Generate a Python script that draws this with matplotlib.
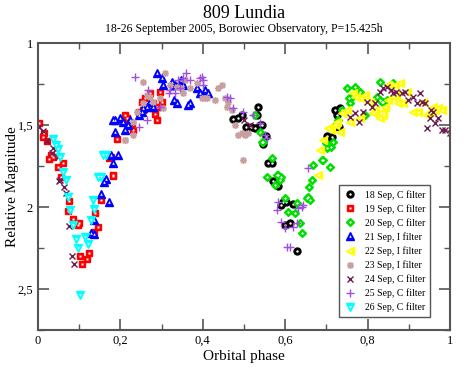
import matplotlib
matplotlib.use("Agg")
import matplotlib.pyplot as plt
from matplotlib.legend_handler import HandlerTuple
from matplotlib.ticker import FuncFormatter, MultipleLocator

plt.rcParams["font.family"] = ["Liberation Serif", "DejaVu Serif"]

# phase / relative magnitude
sep18_ph = [0.474, 0.485, 0.494, 0.506, 0.518, 0.527, 0.531, 0.535, 0.539, 0.544,
            0.547, 0.553, 0.559, 0.567, 0.571, 0.583, 0.591, 0.595, 0.603, 0.619,
            0.599, 0.612, 0.628, 0.702, 0.709, 0.713, 0.718, 0.722, 0.725, 0.731, 0.733]
sep18_mag = [1.466, 1.46, 1.439, 1.51, 1.51, 1.52, 1.439, 1.392, 1.50, 1.50,
             1.614, 1.567, 1.73, 1.73, 1.84, 1.87, 1.99, 1.97, 1.97, 1.98,
             2.11, 2.10, 2.27, 1.57, 1.612, 1.571, 1.51, 1.409, 1.439, 1.51, 1.398]

sep19_ph = [0.003, 0.014, 0.011, 0.022, 0.031, 0.027, 0.036, 0.048, 0.060, 0.056,
            0.076, 0.072, 0.084, 0.096, 0.099, 0.103, 0.108, 0.120, 0.124, 0.135,
            0.139, 0.145, 0.153, 0.173, 0.176, 0.181, 0.182, 0.191, 0.211, 0.215,
            0.219, 0.227, 0.231, 0.244, 0.256, 0.252, 0.260, 0.272, 0.280, 0.285,
            0.288, 0.288, 0.296, 0.300]
sep19_mag = [1.486, 1.547, 1.571, 1.60, 1.683, 1.709, 1.693, 1.754, 1.73, 1.815,
             1.961, 2.022, 2.075, 2.110, 2.096, 2.30, 2.35, 2.32, 2.282, 2.15,
             2.035, 2.124, 1.957, 1.703, 1.693, 1.805, 1.809, 1.583, 1.439, 1.459,
             1.480, 1.49, 1.53, 1.419, 1.409, 1.358, 1.337, 1.307, 1.368, 1.43,
             1.388, 1.469, 1.297, 1.358]

sep20_ph = [0.527, 0.539, 0.543, 0.547, 0.555, 0.567, 0.575, 0.579, 0.583, 0.587,
            0.591, 0.599, 0.608, 0.624, 0.628, 0.636, 0.640, 0.652, 0.656, 0.658,
            0.660, 0.664, 0.668, 0.689, 0.692, 0.700, 0.702, 0.709, 0.710, 0.717,
            0.726, 0.729, 0.737, 0.749, 0.754, 0.757, 0.761, 0.769, 0.781, 0.794,
            0.822, 0.830, 0.834, 0.838, 0.846, 0.830, 0.862]
sep20_mag = [1.439, 1.541, 1.602, 1.601, 1.815, 1.703, 1.866, 1.805, 1.805, 1.835,
             1.815, 1.947, 2.028, 2.039, 1.978, 2.100, 2.161, 1.947, 1.937, 1.876,
             1.957, 1.835, 1.744, 1.713, 1.714, 1.612, 1.642, 1.754, 1.632, 1.602,
             1.49, 1.469, 1.409, 1.276, 1.337, 1.368, 1.327, 1.266, 1.297, 1.439,
             1.327, 1.348, 1.358, 1.358, 1.348, 1.236, 1.246]

sep21_ph = [0.129, 0.135, 0.137, 0.153, 0.159, 0.165, 0.172, 0.178, 0.183, 0.181,
            0.187, 0.187, 0.199, 0.207, 0.211, 0.219, 0.223, 0.244, 0.252, 0.256,
            0.264, 0.272, 0.280, 0.288, 0.300, 0.304, 0.325, 0.329, 0.332, 0.337,
            0.348, 0.353, 0.365, 0.369, 0.385, 0.393, 0.405, 0.413, 0.195]
sep21_mag = [2.161, 2.165, 2.08, 1.92, 1.845, 1.83, 1.967, 1.683, 1.734, 1.47,
             1.469, 1.541, 1.459, 1.480, 1.53, 1.50, 1.469, 1.439, 1.419, 1.398,
             1.388, 1.358, 1.388, 1.185, 1.215, 1.256, 1.236, 1.347, 1.256, 1.368,
             1.225, 1.256, 1.378, 1.368, 1.276, 1.307, 1.286, 1.307, 1.683]

sep22_ph = [0.680, 0.684, 0.692, 0.704, 0.712, 0.721, 0.725, 0.733, 0.737, 0.749,
            0.757, 0.765, 0.773, 0.781, 0.785, 0.794, 0.806, 0.814, 0.818, 0.830,
            0.838, 0.842, 0.850, 0.850, 0.866, 0.879, 0.870, 0.895, 0.887, 0.874,
            0.862, 0.911, 0.923, 0.935, 0.943, 0.951, 0.959, 0.972, 0.980, 0.964,
            0.838, 0.830]
sep22_mag = [1.805, 1.652, 1.591, 1.52, 1.53, 1.50, 1.48, 1.54, 1.429, 1.409,
             1.48, 1.307, 1.327, 1.459, 1.337, 1.317, 1.358, 1.429, 1.409, 1.429,
             1.439, 1.388, 1.348, 1.256, 1.256, 1.246, 1.317, 1.297, 1.368, 1.368,
             1.327, 1.419, 1.419, 1.358, 1.439, 1.419, 1.388, 1.398, 1.409, 1.409,
             1.429, 1.459]

sep23_ph = [0.211, 0.212, 0.231, 0.231, 0.240, 0.256, 0.256, 0.264, 0.272, 0.280,
            0.296, 0.304, 0.308, 0.321, 0.337, 0.348, 0.352, 0.356, 0.369, 0.385,
            0.397, 0.405, 0.409, 0.430, 0.438, 0.446, 0.454, 0.458, 0.462, 0.470,
            0.478, 0.486, 0.494, 0.502, 0.510, 0.498]
sep23_mag = [1.591, 1.59, 1.561, 1.480, 1.419, 1.236, 1.368, 1.317, 1.327, 1.358,
             1.337, 1.398, 1.185, 1.256, 1.266, 1.276, 1.307, 1.225, 1.276, 1.246,
             1.337, 1.337, 1.337, 1.347, 1.276, 1.256, 1.337, 1.388, 1.358, 1.408,
             1.5, 1.561, 1.551, 1.561, 1.551, 1.713]

sep24_ph = [0.003, 0.011, 0.023, 0.034, 0.036, 0.048, 0.052, 0.054, 0.064, 0.069,
            0.076, 0.082, 0.088, 0.500, 0.515, 0.757, 0.769, 0.778, 0.790, 0.798,
            0.810, 0.818, 0.830, 0.838, 0.846, 0.858, 0.862, 0.870, 0.883, 0.891,
            0.899, 0.911, 0.919, 0.927, 0.931, 0.939, 0.943, 0.951, 0.955, 0.959,
            0.964, 0.972, 0.980, 0.988, 1.0]
sep24_mag = [1.51, 1.534, 1.60, 1.67, 1.642, 1.693, 1.839, 1.835, 1.88, 1.912,
             2.116, 2.30, 2.35, 1.47, 1.50, 1.449, 1.429, 1.48, 1.419, 1.358,
             1.388, 1.368, 1.297, 1.276, 1.266, 1.287, 1.307, 1.297, 1.307, 1.297,
             1.347, 1.327, 1.368, 1.307, 1.358, 1.368, 1.52, 1.459, 1.409, 1.419,
             1.49, 1.459, 1.53, 1.53, 1.551]

sep25_ph = [0.235, 0.244, 0.264, 0.268, 0.296, 0.317, 0.321, 0.332, 0.341, 0.344,
            0.352, 0.360, 0.369, 0.393, 0.397, 0.401, 0.401, 0.458, 0.466, 0.474,
            0.498, 0.522, 0.539, 0.551, 0.555, 0.579, 0.583, 0.591, 0.599, 0.604,
            0.612, 0.620, 0.628, 0.632, 0.640, 0.644, 0.656]
sep25_mag = [1.205, 1.51, 1.469, 1.286, 1.388, 1.307, 1.286, 1.307, 1.225, 1.276,
             1.215, 1.185, 1.225, 1.215, 1.205, 1.225, 1.256, 1.327, 1.337, 1.398,
             1.419, 1.439, 1.49, 1.561, 1.581, 2.018, 1.967, 2.089, 2.130, 2.242,
             2.242, 2.120, 2.100, 2.008, 1.998, 1.988, 1.764]

sep26_ph = [0.036, 0.044, 0.048, 0.053, 0.060, 0.068, 0.074, 0.078, 0.086, 0.092,
            0.098, 0.103, 0.115, 0.122, 0.128, 0.137, 0.133, 0.145, 0.153, 0.157,
            0.165]
sep26_mag = [1.588, 1.622, 1.649, 1.693, 1.785, 1.835, 1.941, 2.018, 2.110, 2.197,
             2.248, 2.537, 2.18, 2.228, 2.079, 2.014, 1.957, 1.815, 1.815, 1.683,
             1.683]

labels = ["18 Sep, C filter", "19 Sep, C filter", "20 Sep, C filter",
          "21 Sep, I filter", "22 Sep, I filter", "23 Sep, I filter",
          "24 Sep, C filter", "25 Sep, C filter", "26 Sep, C filter"]

# (x, y, marker, size, colour, patterned?)
series = [
    (sep18_ph, sep18_mag, "o", 5, "black", True),
    (sep19_ph, sep19_mag, "s", 4.8, "red", True),
    (sep20_ph, sep20_mag, "D", 4.2, "#00e000", True),
    (sep21_ph, sep21_mag, "^", 5.2, "blue", True),
    (sep22_ph, sep22_mag, "<", 5.2, "#ffff00", True),
    (sep23_ph, sep23_mag, (8, 2, 0), 5, "#c8a0a0", False),
    (sep24_ph, sep24_mag, "x", 4, "#6e1a50", False),
    (sep25_ph, sep25_mag, "+", 6, "#a050e0", False),
    (sep26_ph, sep26_mag, "v", 5.2, "#00ffff", True),
]

fig = plt.figure(figsize=(4.64, 3.73), dpi=100)
ax = fig.add_axes([38 / 464, 43 / 373, 412 / 464, 287 / 373])

handles = []
for x, y, m, s, c, pat in series:
    l1, = ax.plot(x, y, ls="none", marker=m, ms=s, mfc=c, mec=c, mew=1.0)
    if pat:
        l2, = ax.plot(x, y, ls="none", marker=m, ms=s * 0.35, mfc="white", mec="none")
        handles.append((l1, l2))
    else:
        handles.append(l1)

ax.set_xlim(0, 1)
ax.set_ylim(2.75, 1)
ax.xaxis.set_major_locator(MultipleLocator(0.2))
ax.xaxis.set_minor_locator(MultipleLocator(0.1))
ax.yaxis.set_major_locator(MultipleLocator(0.5))
ax.yaxis.set_minor_locator(MultipleLocator(0.25))
fmt = FuncFormatter(lambda v, p: f"{v:g}".replace(".", ","))
ax.xaxis.set_major_formatter(fmt)
ax.yaxis.set_major_formatter(fmt)
ax.tick_params(which="both", direction="in", top=True, right=True, color="#555555", labelsize=9)
ax.tick_params(which="major", length=8, width=1.2)
ax.tick_params(which="minor", length=4, width=1.0)
for sp in ax.spines.values():
    sp.set_color("#555555")
    sp.set_linewidth(1.5)

ax.set_xlabel("Orbital phase", fontsize=11, labelpad=2)
ax.set_ylabel("Relative Magnitude", fontsize=11)
ax.yaxis.set_label_coords(-0.046, 0.5)
fig.text(0.526, 0.965, "809 Lundia", ha="center", va="center", fontsize=13)
fig.text(0.526, 0.922, "18-26 September 2005, Borowiec Observatory, P=15.425h",
         ha="center", va="center", fontsize=8.5)

leg = ax.legend(handles, labels, loc="lower right", bbox_to_anchor=(0.964, 0.028),
                fontsize=7, handler_map={tuple: HandlerTuple(ndivide=1)},
                fancybox=False, framealpha=1, edgecolor="#555555",
                handlelength=1.2, handletextpad=1.0, labelspacing=0.45,
                borderpad=0.5)
leg.get_frame().set_linewidth(1.0)

fig.savefig("out.png", dpi=100)
